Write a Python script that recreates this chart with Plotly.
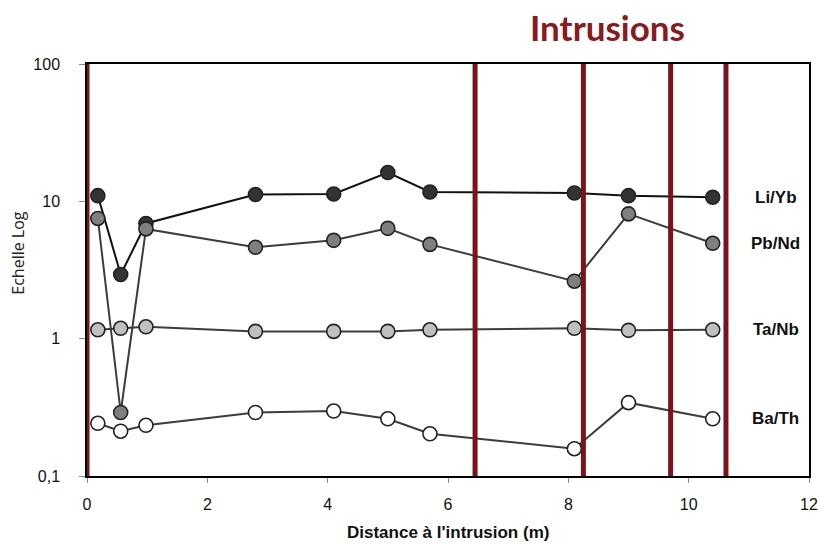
import math
import plotly.graph_objects as go

# distance from the intrusion (m)
distance = [0.18, 0.56, 0.98, 2.8, 4.1, 5.0, 5.7, 8.1, 9.0, 10.4]

li_yb = [11.0, 2.93, 6.9, 11.2, 11.3, 16.2, 11.7, 11.5, 11.0, 10.7]
pb_nd = [7.5, 0.29, 6.3, 4.63, 5.2, 6.36, 4.86, 2.62, 8.1, 4.95]
ta_nb = [1.16, 1.19, 1.22, 1.13, 1.13, 1.13, 1.16, 1.19, 1.15, 1.16]
ba_th = [0.242, 0.212, 0.234, 0.29, 0.297, 0.261, 0.203, 0.158, 0.342, 0.261]

series_names = ["Li/Yb", "Pb/Nd", "Ta/Nb", "Ba/Th"]
series_values = [li_yb, pb_nd, ta_nb, ba_th]
fill_colors = ["#333333", "#7f7f7f", "#c0c0c0", "#ffffff"]
line_colors = ["#111111", "#3c3c3c", "#3c3c3c", "#3c3c3c"]

# positions of the intrusions (m)
intrusions = [0.0, 6.45, 8.25, 9.7, 10.62]

y_ticks = [0.1, 1, 10, 100]
y_ticktext = ["0,1", "1", "10", "100"]

tick_font = dict(family="Liberation Sans, Arial", size=16, color="#111111")

fig = go.Figure()
for name, vals, fc, lc in zip(series_names, series_values, fill_colors, line_colors):
    fig.add_trace(go.Scatter(
        x=distance, y=vals, mode="lines+markers", name=name,
        line=dict(color=lc, width=2),
        marker=dict(size=14, color=fc, line=dict(color="#222222", width=1.6))))
    # series label on the right, level with the last point
    fig.add_annotation(x=11.45, y=math.log10(vals[-1]), text="<b>" + name + "</b>",
                       showarrow=False, xanchor="center",
                       font=dict(family="Liberation Sans, Arial", size=17, color="#111111"))

for xi in intrusions:
    fig.add_shape(type="line", xref="x", yref="paper", x0=xi, x1=xi, y0=0, y1=1,
                  line=dict(color="#7b1418", width=5), layer="above")

fig.add_annotation(xref="paper", yref="paper", x=0.7216, y=1.0, yshift=37,
                   text="<b>Intrusions</b>", showarrow=False, xanchor="center", yanchor="middle",
                   font=dict(family="Lato", size=35, color="#8b1a1f"))

# axis titles
fig.add_annotation(xref="paper", yref="paper", x=0.5, y=0, yshift=-56, xanchor="center",
                   yanchor="middle", showarrow=False,
                   text="<b>Distance à l'intrusion (m)</b>",
                   font=dict(family="Liberation Sans, Arial", size=17, color="#111111"))
fig.add_annotation(xref="paper", yref="paper", x=0, xshift=-69, y=0.542, textangle=-90,
                   xanchor="center", yanchor="middle", showarrow=False,
                   text="Echelle Log",
                   font=dict(family="Open Sans", size=16, color="#222222"))

fig.update_xaxes(range=[0, 12], dtick=2, ticks="outside", ticklen=5, tickcolor="#888888",
                 showline=True, linecolor="black", linewidth=2, mirror=True, showgrid=False,
                 zeroline=False, automargin=False, ticklabelstandoff=8, tickfont=tick_font)
fig.update_yaxes(type="log", range=[-1, 2], tickvals=y_ticks, ticktext=y_ticktext,
                 ticks="outside", ticklen=6, tickcolor="#888888",
                 showline=True, linecolor="black", linewidth=1.5, mirror=True, showgrid=False,
                 automargin=False, ticklabelstandoff=16, tickfont=tick_font)

fig.update_layout(
    width=821, height=544,
    margin=dict(l=87, r=12, t=64, b=68),
    showlegend=False,
    plot_bgcolor="white",
    paper_bgcolor="white",
)

fig.write_html("out.html", config={"displayModeBar": False},
               post_script="document.body.style.margin='0';document.body.style.padding='0';")
